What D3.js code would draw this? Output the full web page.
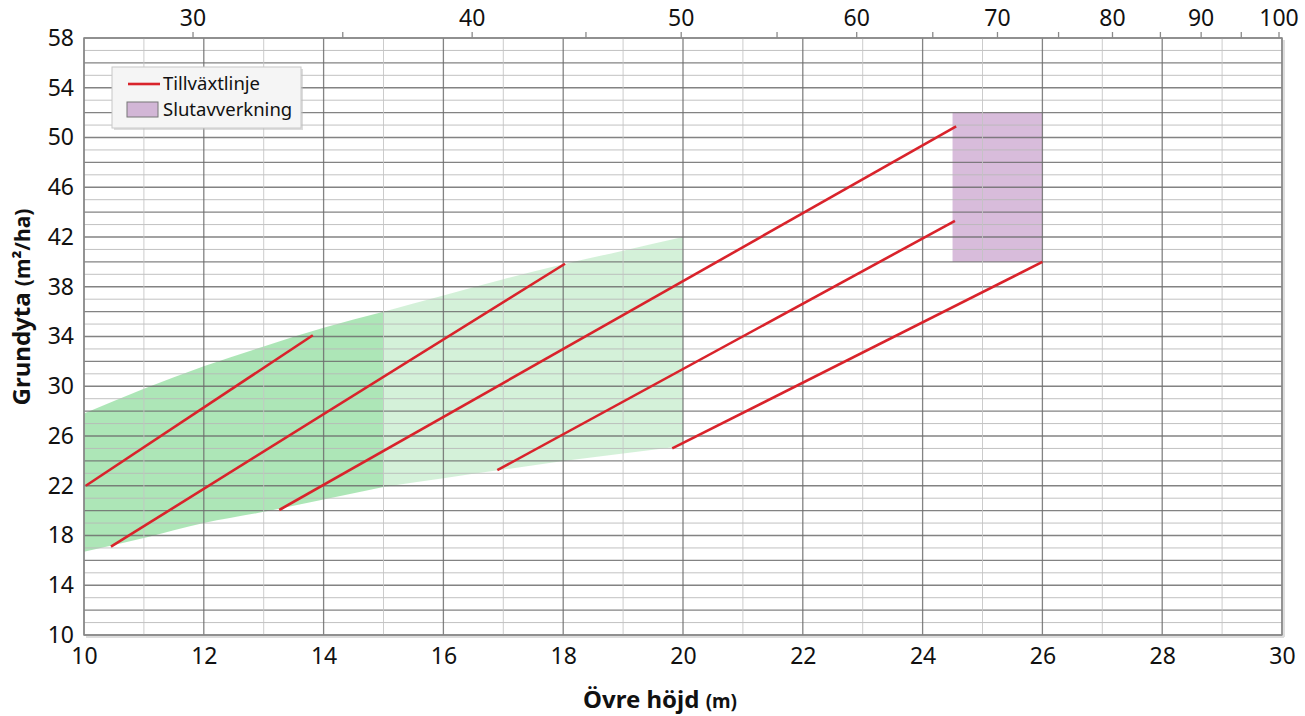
<!DOCTYPE html>
<html><head><meta charset="utf-8">
<script src="https://cdn.jsdelivr.net/npm/d3@7"></script>
<style>
body{margin:0;background:#fff;}
text{font-family:"Noto Sans","Open Sans",sans-serif;}
</style></head>
<body><svg id="c" width="1305" height="716"></svg>
<script>
// ---- data ----
const xTicks = [10,12,14,16,18,20,22,24,26,28,30];
const yTicks = [10,14,18,22,26,30,34,38,42,46,50,54,58];
const topAges = [30,35,40,45,50,55,60,65,70,75,80,85,90,95,100];
const topAgeHeights = [11.82,14.32,16.48,18.38,19.97,21.57,22.9,24.17,25.25,26.27,27.17,27.97,28.65,29.32,29.95];
const topLabelAges = [30,40,50,60,70,80,90,100];

// green band (Övre höjd -> grundyta lower/upper)
const bandDarkX     = [10, 11, 12, 13, 14, 15];
const bandDarkLow   = [16.7, 17.8, 19.0, 19.9, 20.9, 21.9];
const bandDarkHigh  = [27.8, 29.8, 31.6, 33.2, 34.7, 36.0];
const bandLightX    = [15, 16, 17, 18, 19, 20];
const bandLightLow  = [21.9, 22.6, 23.3, 24.0, 24.6, 25.2];
const bandLightHigh = [36.0, 37.3, 38.6, 39.8, 40.9, 42.0];

// growth lines: [start height, start BA, end height, end BA]
const growthLines = [
  [10.03, 22.0, 13.82, 34.1],
  [10.45, 17.1, 18.03, 39.85],
  [13.26, 20.05, 24.56, 50.9],
  [16.9, 23.25, 24.54, 43.3],
  [19.82, 25.0, 26.0, 40.0]
];
// final felling box
const fellX = [24.5, 26];
const fellY = [40, 52];

const legendItems = ["Tillväxtlinje", "Slutavverkning"];

// ---- drawing ----
const svg = d3.select("#c");
const x = d3.scaleLinear().domain([10,30]).range([84,1282]);
const y = d3.scaleLinear().domain([10,58]).range([635,38]);
const ageToH = d3.scaleLinear().domain(topAges).range(topAgeHeights);

const g = svg.append("g");

// areas
const area = d3.area().x(d=>x(d[0])).y0(d=>y(d[1])).y1(d=>y(d[2])).curve(d3.curveMonotoneX);
g.append("path").datum(bandDarkX.map((v,i)=>[v,bandDarkLow[i],bandDarkHigh[i]]))
  .attr("d", area).attr("fill","#9fe2aa").attr("opacity",0.85);
g.append("path").datum(bandLightX.map((v,i)=>[v,bandLightLow[i],bandLightHigh[i]]))
  .attr("d", area).attr("fill","#c9eecf").attr("opacity",0.8);

// fell rect
g.append("rect").attr("x",x(fellX[0])).attr("y",y(fellY[1]))
  .attr("width",x(fellX[1])-x(fellX[0])).attr("height",y(fellY[0])-y(fellY[1]))
  .attr("fill","#c7a0cc").attr("opacity",0.7);

// grid
const grid = svg.append("g");
d3.range(10,59,1).forEach(v=>{
  grid.append("line").attr("x1",x(10)).attr("x2",x(30)).attr("y1",y(v)).attr("y2",y(v))
    .attr("stroke", v%2===0 ? "#6e6e6e" : "#b8b8b8").attr("stroke-width", v%2===0?1.3:1).attr("opacity",0.85);
});
d3.range(10,31,1).forEach(v=>{
  grid.append("line").attr("y1",y(10)).attr("y2",y(58)).attr("x1",x(v)).attr("x2",x(v))
    .attr("stroke", v%2===0 ? "#6e6e6e" : "#c4c4c4").attr("stroke-width", v%2===0?1.3:1).attr("opacity",0.85);
});

// frame
svg.append("rect").attr("x",x(10)).attr("y",y(58)).attr("width",x(30)-x(10)).attr("height",y(10)-y(58))
  .attr("fill","none").attr("stroke","#8a8a8a").attr("stroke-width",1.5);
svg.append("line").attr("x1",x(30)+2).attr("x2",x(30)+2).attr("y1",y(58)+2).attr("y2",y(10)+2).attr("stroke","#ddd").attr("stroke-width",2);
svg.append("line").attr("x1",x(10)+2).attr("x2",x(30)+2).attr("y1",y(10)+2).attr("y2",y(10)+2).attr("stroke","#ddd").attr("stroke-width",2);

// growth lines
svg.append("g").selectAll("line").data(growthLines).join("line")
  .attr("x1",d=>x(d[0])).attr("y1",d=>y(d[1])).attr("x2",d=>x(d[2])).attr("y2",d=>y(d[3]))
  .attr("stroke","#d9232b").attr("stroke-width",2.6);

// axes
const fs = "23px";
const bx = svg.append("g").attr("transform",`translate(0,${y(10)})`)
  .call(d3.axisBottom(x).tickValues(xTicks).tickSize(0).tickPadding(13).tickFormat(d3.format("d")));
bx.select(".domain").remove();
bx.selectAll("text").attr("font-size",fs).attr("fill","#111").style("font-family","Noto Sans");

const ly = svg.append("g").attr("transform",`translate(${x(10)},0)`)
  .call(d3.axisLeft(y).tickValues(yTicks).tickSize(0).tickPadding(10).tickFormat(d3.format("d")));
ly.select(".domain").remove();
ly.selectAll("text").attr("font-size",fs).attr("fill","#111").style("font-family","Noto Sans");

const ta = svg.append("g").attr("transform",`translate(0,${y(58)})`);
ta.selectAll("line.tt").data(topAges).join("line").attr("class","tt")
  .attr("x1",d=>x(ageToH(d))).attr("x2",d=>x(ageToH(d))).attr("y1",0).attr("y2",-6)
  .attr("stroke","#8a8a8a").attr("stroke-width",1.3);
ta.selectAll("text.tl").data(topLabelAges).join("text").attr("class","tl")
  .attr("x",d=>x(ageToH(d))).attr("y",-12).attr("text-anchor","middle")
  .attr("font-size",fs).attr("fill","#111").text(d=>d);

// axis titles
const xt = svg.append("text").attr("x",660).attr("y",708).attr("text-anchor","middle")
  .attr("font-weight","bold").attr("font-size","24px").attr("fill","#111");
xt.append("tspan").text("Övre höjd ");
xt.append("tspan").attr("font-size","19px").text("(m)");
const yt = svg.append("text").attr("transform","translate(30,307) rotate(-90)").attr("text-anchor","middle")
  .attr("font-weight","bold").attr("font-size","24px").attr("fill","#111");
yt.append("tspan").text("Grundyta ");
yt.append("tspan").attr("font-size","21px").text("(m²/ha)");

// legend
const lg = svg.append("g");
lg.append("rect").attr("x",114).attr("y",69).attr("width",189).attr("height",61).attr("fill","#bbb").attr("opacity",0.5);
lg.append("rect").attr("x",112).attr("y",67).attr("width",189).attr("height",61).attr("fill","#f5f5f5").attr("stroke","#c8c8c8");
lg.append("line").attr("x1",128).attr("x2",160).attr("y1",84).attr("y2",84).attr("stroke","#d9232b").attr("stroke-width",2.6);
lg.append("rect").attr("x",127).attr("y",102).attr("width",31).attr("height",15).attr("fill","#d2b6d6").attr("stroke","#777");
lg.selectAll("text").data(legendItems).join("text").attr("x",163).attr("y",(d,i)=>84+i*26).attr("dy","0.35em")
  .attr("font-size","18.5px").attr("fill","#111").text(d=>d);
</script></body></html>
